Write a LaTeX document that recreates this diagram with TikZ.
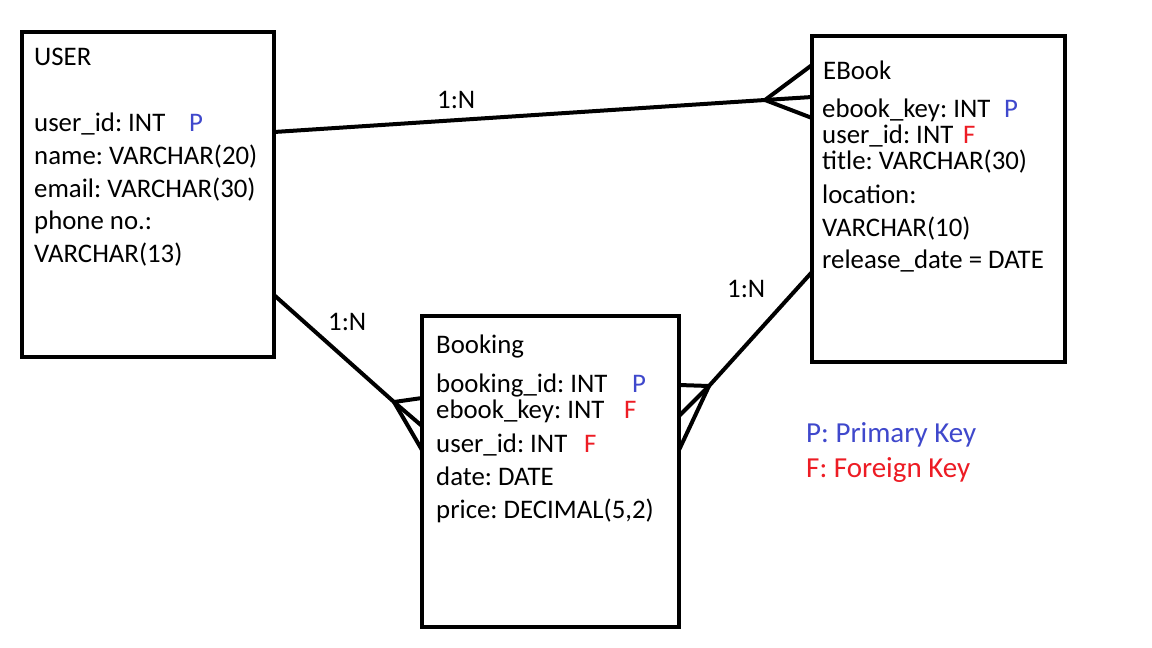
\documentclass[tikz,border=0pt]{standalone}
\usepackage{fontspec}
\setmainfont{Carlito}
\definecolor{pkblue}{RGB}{63,72,204}
\definecolor{fkred}{RGB}{237,28,36}
\frenchspacing
\begin{document}
\begin{tikzpicture}[x=1pt,y=-1pt,
  txt/.style={anchor=base west,inner sep=0pt,font=\fontsize{26.8}{33}\selectfont},
  pk/.style={txt,text=pkblue},
  fk/.style={txt,text=fkred},
  leg/.style={anchor=base west,inner sep=0pt,font=\fontsize{29}{35}\selectfont},
  ent/.style={draw,line width=4pt,inner sep=0pt},
  rel/.style={line width=4pt,line cap=round,line join=round}]
\useasboundingbox (0,0) rectangle (1152,648);
\fill[white] (0,0) rectangle (1152,648);
% entity boxes
\node[ent,minimum width=252pt,minimum height=325pt] (user) at (148,194.5) {};
\node[ent,minimum width=253pt,minimum height=326pt] (ebook) at (938.5,199) {};
\node[ent,minimum width=257pt,minimum height=311pt] (booking) at (550.5,471.5) {};
% USER
\node[txt] (uT) at (34,65) {USER};
\node[txt] (u1) at (34,131) {user\_id: INT};
\node[pk] (u1k) at (189,131) {P};
\node[txt] (u2) at (34,164) {name: VARCHAR(20)};
\node[txt] (u3) at (34,197) {email: VARCHAR(30)};
\node[txt] (u4) at (34,229) {phone no.:};
\node[txt] (u5) at (34,262) {VARCHAR(13)};
% EBook
\node[txt] (eT) at (823,79) {EBook};
\node[txt] (e1t) at (822,117) {ebook\_key: INT};
\node[pk] (e1k) at (1004,117) {P};
\node[txt] (e2t) at (822,143) {user\_id: INT};
\node[fk] (e2k) at (963,143) {F};
\node[txt] (e3t) at (822,169) {title: VARCHAR(30)};
\node[txt] (e4t) at (822,203) {location:};
\node[txt] (e5t) at (822,236) {VARCHAR(10)};
\node[txt] (e6t) at (822,268) {release\_date = DATE};
% Booking
\node[txt] (bT) at (436,353) {Booking};
\node[txt] (b1) at (436,392) {booking\_id: INT};
\node[pk] (b1k) at (632,392) {P};
\node[txt] (b2) at (436,418) {ebook\_key: INT};
\node[fk] (b2k) at (624,418) {F};
\node[txt] (b3) at (436,452) {user\_id: INT};
\node[fk] (b3k) at (584,452) {F};
\node[txt] (b4) at (436,485) {date: DATE};
\node[txt] (b5) at (436,518) {price: DECIMAL(5,2)};
% legend
\node[leg,text=pkblue] (lp) at (806,442) {P: Primary Key};
\node[leg,text=fkred] (lf) at (806,477) {F: Foreign Key};
% relationship labels
\node[txt] (r1) at (437,108) {1:N};
\node[txt] (r2) at (328,330) {1:N};
\node[txt] (r3) at (727,297) {1:N};
% USER - EBook
\coordinate (ue) at (274,132);
\coordinate (ea) at (765,100);
\coordinate (ep1) at (812,65);
\coordinate (ep2) at (812,97);
\coordinate (ep3) at (812,118);
\draw[rel] (ue) -- (ea) -- (ep2);
\draw[rel] (ep1) -- (ea) -- (ep3);
% USER - Booking
\coordinate (us) at (274,295);
\coordinate (ba) at (394,402);
\coordinate (bp1) at (422,398);
\coordinate (bp2) at (422,426);
\coordinate (bp3) at (422,450);
\draw[rel] (us) -- (ba) -- (bp2);
\draw[rel] (bp1) -- (ba) -- (bp3);
% EBook - Booking
\coordinate (el) at (812,272);
\coordinate (ca) at (709,386);
\coordinate (cp1) at (679,385);
\coordinate (cp2) at (679,416);
\coordinate (cp3) at (679,450);
\draw[rel] (el) -- (ca) -- (cp2);
\draw[rel] (cp1) -- (ca) -- (cp3);
\end{tikzpicture}
\end{document}
